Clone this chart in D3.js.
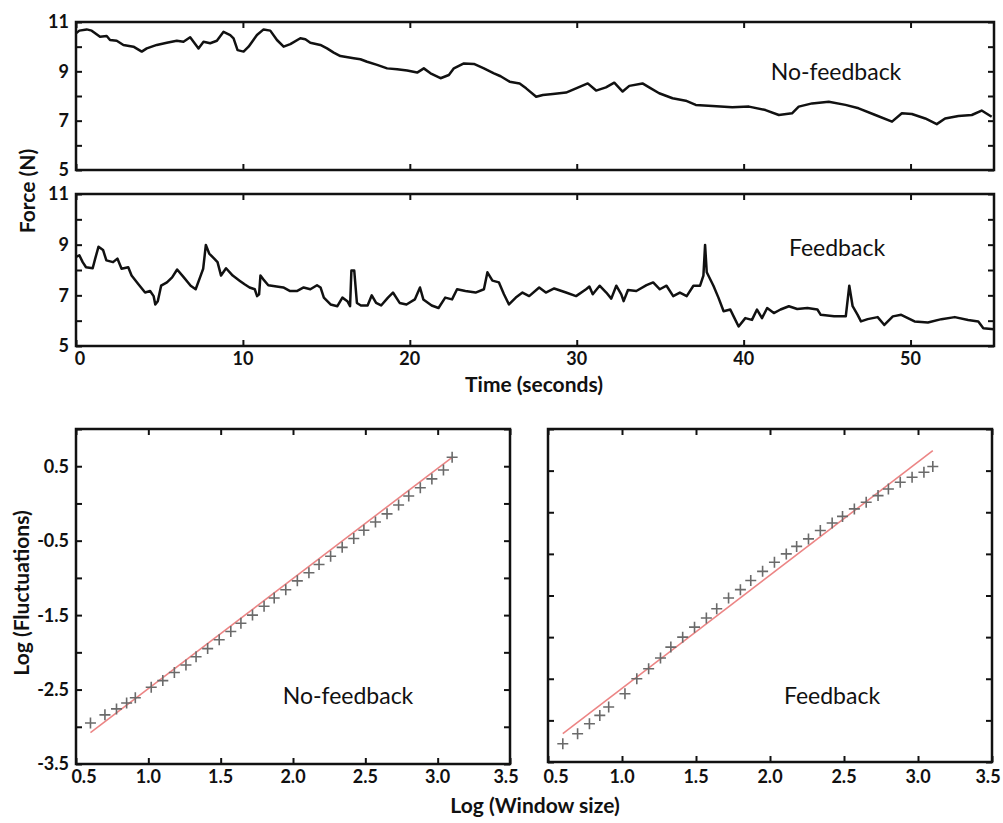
<!DOCTYPE html>
<html>
<head>
<meta charset="utf-8">
<script src="https://cdn.jsdelivr.net/npm/d3@7"></script>
<style>
  body { margin: 0; background: #fff; }
  svg { display: block; font-family: Lato, 'Open Sans', sans-serif; }
  .frame { fill: none; stroke: #111; stroke-width: 2.5; }
  .tick line { stroke: #111; stroke-width: 2; }
  .domain { display: none; }
  .tick-label { font-size: 18px; font-weight: bold; fill: #111; }
  .axis-title { font-size: 21px; font-weight: bold; fill: #111; }
  .panel-label { font-size: 23px; fill: #111; }
  .trace { fill: none; stroke: #111; stroke-width: 2.5; stroke-linejoin: round; }
  .fit { stroke: #ec8585; stroke-width: 1.6; }
  .marker { stroke: #6a6a6a; stroke-width: 1.6; fill: none; }
</style>
</head>
<body>
<svg id="chart" width="1003" height="823"></svg>
<script>
// force traces (time in s, force in N)
const noFeedbackTime = [0, 0.2, 0.64, 0.94, 1.44, 1.84, 2.04, 2.44, 2.84, 3.44, 3.94, 4.24, 4.84, 5.44, 6.04, 6.44, 6.84, 7.04, 7.34, 7.64, 8.04, 8.44, 8.84, 9.24, 9.44, 9.68, 10.04, 10.34, 10.84, 11.24, 11.64, 12.04, 12.44, 12.84, 13.44, 13.74, 14.04, 14.64, 15.04, 15.44, 15.84, 16.64, 17.04, 17.44, 18.04, 18.64, 19.24, 19.84, 20.44, 20.84, 21.24, 21.84, 22.34, 22.64, 23.24, 23.84, 24.44, 25.04, 25.44, 25.98, 26.58, 26.97, 27.57, 27.97, 28.57, 29.36, 29.96, 30.66, 31.16, 31.75, 32.25, 32.75, 33.15, 33.94, 34.34, 34.94, 35.74, 36.53, 37.13, 38.13, 39.32, 40.32, 41.31, 42.11, 42.9, 43.3, 44.1, 45.1, 46.1, 46.89, 47.89, 48.89, 49.48, 50.08, 50.88, 51.57, 52.07, 52.87, 53.67, 54.26, 54.86];
const noFeedbackForce = [10.54, 10.65, 10.70, 10.65, 10.40, 10.43, 10.27, 10.24, 10.07, 10.00, 9.80, 9.93, 10.07, 10.16, 10.24, 10.20, 10.38, 10.20, 9.93, 10.20, 10.14, 10.24, 10.60, 10.47, 10.34, 9.86, 9.80, 10.00, 10.47, 10.70, 10.65, 10.27, 10.00, 10.10, 10.34, 10.30, 10.16, 10.07, 9.93, 9.76, 9.62, 9.53, 9.49, 9.39, 9.26, 9.12, 9.08, 9.03, 8.95, 9.12, 8.92, 8.72, 8.85, 9.12, 9.32, 9.30, 9.12, 8.92, 8.80, 8.58, 8.51, 8.31, 7.97, 8.04, 8.08, 8.14, 8.31, 8.51, 8.22, 8.35, 8.54, 8.18, 8.41, 8.51, 8.35, 8.11, 7.91, 7.81, 7.64, 7.59, 7.54, 7.57, 7.43, 7.23, 7.30, 7.57, 7.70, 7.77, 7.64, 7.50, 7.23, 6.96, 7.30, 7.27, 7.09, 6.86, 7.09, 7.19, 7.23, 7.41, 7.16];

const feedbackTime = [0, 0.2, 0.4, 0.6, 1.0, 1.15, 1.35, 1.62, 1.82, 2.22, 2.48, 2.73, 3.13, 3.33, 3.74, 4.14, 4.44, 4.65, 4.75, 4.9, 5.1, 5.45, 5.76, 6.06, 6.46, 6.87, 7.17, 7.47, 7.62, 7.78, 7.98, 8.28, 8.48, 8.69, 8.99, 9.39, 9.8, 10.1, 10.4, 10.71, 10.85, 10.97, 11.05, 11.21, 11.52, 12.02, 12.42, 12.83, 13.23, 13.64, 14.04, 14.44, 14.65, 14.85, 15.25, 15.66, 15.96, 16.26, 16.42, 16.5, 16.67, 16.83, 17.07, 17.47, 17.72, 17.98, 18.28, 18.69, 18.99, 19.39, 19.8, 20.3, 20.61, 20.81, 21.31, 21.72, 22.12, 22.53, 22.83, 23.33, 23.94, 24.44, 24.65, 24.95, 25.34, 25.64, 25.94, 26.35, 26.75, 27.15, 27.75, 28.15, 28.65, 29.36, 29.96, 30.56, 30.76, 30.96, 31.37, 31.77, 32.07, 32.37, 32.67, 32.81, 33.07, 33.57, 34.18, 34.58, 34.98, 35.38, 35.78, 36.18, 36.59, 36.99, 37.39, 37.59, 37.69, 37.79, 38.19, 38.49, 38.8, 39.2, 39.4, 39.7, 40.1, 40.5, 40.8, 41.1, 41.41, 41.81, 42.21, 42.71, 43.21, 43.82, 44.42, 44.62, 45.42, 46.12, 46.33, 46.53, 46.83, 47.03, 47.43, 48.03, 48.43, 48.94, 49.44, 50.24, 51.04, 51.85, 52.65, 53.45, 54.06, 54.36, 55.0];
const feedbackForce = [8.52, 8.58, 8.31, 8.11, 8.07, 8.45, 8.92, 8.79, 8.38, 8.31, 8.45, 8.05, 8.11, 7.78, 7.44, 7.11, 7.17, 6.97, 6.64, 6.77, 7.38, 7.51, 7.71, 8.02, 7.71, 7.38, 7.24, 7.78, 8.05, 8.99, 8.65, 8.45, 8.31, 7.78, 8.07, 7.78, 7.58, 7.44, 7.31, 7.24, 6.97, 7.04, 7.78, 7.64, 7.40, 7.35, 7.31, 7.17, 7.17, 7.31, 7.24, 7.40, 7.31, 6.91, 6.64, 6.57, 6.91, 6.77, 6.57, 7.98, 7.98, 6.70, 6.60, 6.60, 7.00, 6.70, 6.60, 6.91, 7.11, 6.70, 6.64, 6.84, 7.31, 6.84, 6.60, 6.50, 6.91, 6.84, 7.24, 7.17, 7.11, 7.24, 7.91, 7.58, 7.51, 7.04, 6.64, 6.91, 7.11, 6.97, 7.31, 7.11, 7.27, 7.11, 6.97, 7.24, 7.35, 7.04, 7.38, 7.11, 6.87, 7.38, 7.04, 6.77, 7.21, 7.17, 7.40, 7.51, 7.24, 7.38, 6.97, 7.11, 6.97, 7.38, 7.38, 7.78, 8.99, 7.91, 7.38, 6.91, 6.37, 6.44, 6.17, 5.77, 6.10, 6.03, 6.44, 6.10, 6.50, 6.30, 6.44, 6.57, 6.46, 6.50, 6.44, 6.23, 6.17, 6.17, 7.38, 6.57, 6.23, 5.97, 6.06, 6.14, 5.83, 6.17, 6.23, 5.97, 5.93, 6.06, 6.14, 6.03, 5.97, 5.70, 5.66];

// fluctuation analysis, log10 values
const logWindow = [0.60, 0.70, 0.78, 0.85, 0.91, 1.02, 1.10, 1.18, 1.26, 1.33, 1.41, 1.49, 1.57, 1.64, 1.72, 1.80, 1.87, 1.95, 2.03, 2.11, 2.18, 2.26, 2.34, 2.42, 2.49, 2.57, 2.65, 2.73, 2.80, 2.88, 2.96, 3.04, 3.10];
const noFeedbackFluct = [-2.95, -2.84, -2.76, -2.68, -2.61, -2.47, -2.38, -2.27, -2.17, -2.06, -1.95, -1.83, -1.72, -1.61, -1.50, -1.38, -1.27, -1.16, -1.04, -0.93, -0.82, -0.71, -0.59, -0.47, -0.36, -0.25, -0.14, -0.02, 0.10, 0.21, 0.33, 0.45, 0.62];
const feedbackFluct = [-3.28, -3.16, -3.04, -2.94, -2.84, -2.68, -2.50, -2.38, -2.25, -2.12, -2.00, -1.88, -1.77, -1.66, -1.53, -1.43, -1.32, -1.21, -1.10, -1.00, -0.91, -0.82, -0.72, -0.63, -0.55, -0.46, -0.38, -0.30, -0.22, -0.14, -0.08, -0.02, 0.05];
const fitWindow = [0.60, 3.10];
const noFeedbackFit = [-3.08, 0.62];
const feedbackFit = [-3.16, 0.24];

const timeTicks = [0, 10, 20, 30, 40, 50];
const forceTicks = [5, 6, 7, 8, 9, 10, 11];
const forceLabels = [5, 7, 9, 11];
const windowTicks = [0.5, 1.0, 1.5, 2.0, 2.5, 3.0, 3.5];
const fluctTicks = [-3.5, -3.0, -2.5, -2.0, -1.5, -1.0, -0.5, 0, 0.5, 1.0];
const fluctLabels = [-3.5, -2.5, -1.5, -0.5, 0.5];
const feedbackFluctTicks = [-3.5, -3.0, -2.5, -2.0, -1.5, -1.0, -0.5, 0, 0.5];

const svg = d3.select('#chart');
svg.append('rect').attr('width', 1003).attr('height', 823).attr('fill', '#fff');

const tickLen = 6;

function frame({ x, y, xTicks, yTicks }) {
  const [x0, x1] = x.range();
  const [y0, y1] = y.range();
  const g = svg.append('g');

  g.append('g').attr('transform', `translate(0,${y0})`)
    .call(d3.axisBottom(x).tickValues(xTicks).tickSize(-tickLen).tickFormat(''));
  g.append('g').attr('transform', `translate(0,${y1})`)
    .call(d3.axisTop(x).tickValues(xTicks).tickSize(-tickLen).tickFormat(''));
  g.append('g').attr('transform', `translate(${x0},0)`)
    .call(d3.axisLeft(y).tickValues(yTicks).tickSize(-tickLen).tickFormat(''));
  g.append('g').attr('transform', `translate(${x1},0)`)
    .call(d3.axisRight(y).tickValues(yTicks).tickSize(-tickLen).tickFormat(''));

  g.append('rect')
    .classed('frame', true)
    .attr('x', x0).attr('y', y1)
    .attr('width', x1 - x0).attr('height', y0 - y1);
  return g;
}

function yLabels(y, values, xPos, fmt) {
  svg.append('g').selectAll('text')
    .data(values).join('text')
    .classed('tick-label', true)
    .attr('x', xPos)
    .attr('y', d => y(d))
    .attr('dy', '0.36em')
    .attr('text-anchor', 'end')
    .text(fmt);
}

function xLabels(x, values, yPos, fmt, nudge) {
  svg.append('g').selectAll('text')
    .data(values).join('text')
    .classed('tick-label', true)
    .attr('x', (d, i) => x(d) + (nudge[i] || 0))
    .attr('y', yPos)
    .attr('text-anchor', 'middle')
    .text(fmt);
}

function label(text, cls, xPos, yPos, rotate) {
  svg.append('text')
    .classed(cls, true)
    .attr('transform', `translate(${xPos},${yPos})` + (rotate ? ' rotate(-90)' : ''))
    .attr('text-anchor', 'middle')
    .text(text);
}

// --- force traces ---
const xTime = d3.scaleLinear().domain([0, 55]).range([76, 994]);
const yTop = d3.scaleLinear().domain([5, 11]).range([170, 22]);
const yMid = d3.scaleLinear().domain([5, 11]).range([346, 194]);

[[yTop, noFeedbackTime, noFeedbackForce], [yMid, feedbackTime, feedbackForce]].forEach(([y, t, f]) => {
  frame({ x: xTime, y, xTicks: timeTicks, yTicks: forceTicks });
  const line = d3.line().x(i => xTime(t[i])).y(i => y(f[i]));
  svg.append('path').classed('trace', true).attr('d', line(d3.range(t.length)));
  yLabels(y, forceLabels, 69, d => d);
});

xLabels(xTime, timeTicks, 365, d => d, [4]);
label('No-feedback', 'panel-label', 836, 80);
label('Feedback', 'panel-label', 837, 256);
label('Time (seconds)', 'axis-title', 534, 392);
label('Force (N)', 'axis-title', 35, 191, true);

// --- fluctuation plots ---
const xLeft = d3.scaleLinear().domain([0.5, 3.5]).range([76, 510]);
const yLeft = d3.scaleLinear().domain([-3.5, 1.0]).range([764, 429]);
const xRight = d3.scaleLinear().domain([0.5, 3.5]).range([548, 992]);
const yRight = d3.scaleLinear().domain([-3.5, 0.5]).range([762, 429]);

const plus = 5.5;
[[xLeft, yLeft, fluctTicks, noFeedbackFluct, noFeedbackFit],
 [xRight, yRight, feedbackFluctTicks, feedbackFluct, feedbackFit]].forEach(([x, y, yt, fl, fit]) => {
  frame({ x, y, xTicks: windowTicks, yTicks: yt });

  svg.append('line').classed('fit', true)
    .attr('x1', x(fitWindow[0])).attr('y1', y(fit[0]))
    .attr('x2', x(fitWindow[1])).attr('y2', y(fit[1]));

  svg.append('g').selectAll('path')
    .data(d3.range(logWindow.length)).join('path')
    .classed('marker', true)
    .attr('d', i => {
      const cx = x(logWindow[i]);
      const cy = y(fl[i]);
      return `M${cx - plus},${cy}H${cx + plus}M${cx},${cy - plus}V${cy + plus}`;
    });

  xLabels(x, windowTicks, 783, d => d.toFixed(1), [8, 0, 0, 0, 0, 0, -4]);
});

yLabels(yLeft, fluctLabels, 69, d => d.toFixed(1));
label('No-feedback', 'panel-label', 348, 704);
label('Feedback', 'panel-label', 832, 704);
label('Log (Fluctuations)', 'axis-title', 29, 593, true);
label('Log (Window size)', 'axis-title', 535, 813);
</script>
</body>
</html>
